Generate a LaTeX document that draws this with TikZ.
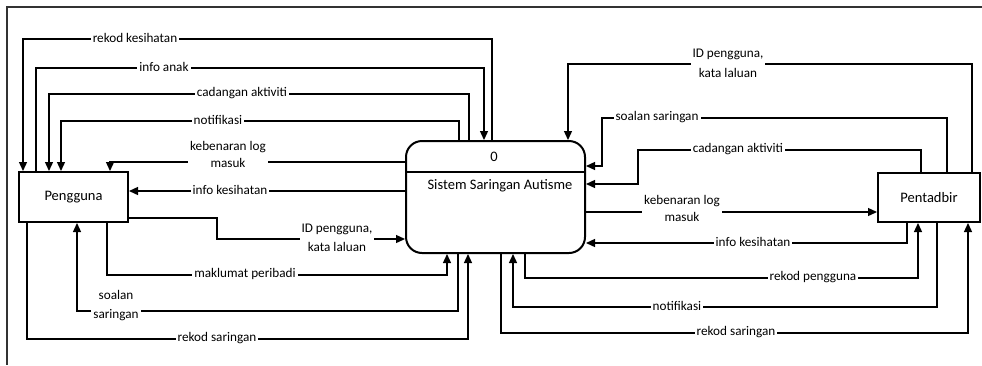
\documentclass[tikz,border=0pt]{standalone}
\usepackage{fontspec}
\setmainfont{Carlito}
\usetikzlibrary{arrows.meta,calc}
\begin{document}
\begin{tikzpicture}[x=1pt,y=-1pt,
  flow/.style={line width=1.3pt,-{Triangle[length=9pt,width=8pt]}},
  lbl/.style={fill=white,inner sep=2pt,font=\fontsize{13.2}{19}\selectfont,align=center},
  ent/.style={draw,line width=2pt,inner sep=0pt,font=\fontsize{14.5}{17}\selectfont},
  proc/.style={draw,line width=2pt,rounded corners=16pt,inner sep=0pt,minimum width=179pt,minimum height=112pt}]
\useasboundingbox (0,0) rectangle (982,365);
% frame
\draw[line width=1.6pt,black!80] (982,7) -- (7,7) -- (7,365);
% entities
\node[ent,minimum width=109pt,minimum height=50pt] (P) at (73.5,197) {Pengguna};
\node[ent,minimum width=102pt,minimum height=49pt] (A) at (929,197.5) {Pentadbir};
\node[proc] (S) at (495.5,197) {};
\draw[line width=2pt] (S.west |- 0,172) -- (S.east |- 0,172);
\node[font=\fontsize{14.5}{17}\selectfont] (Snum) at (494,157) {0};
\node[font=\fontsize{14.5}{17}\selectfont] (Stitle) at (500,186) {Sistem Saringan Autisme};
% left flows
\draw[flow] (S.north -| 492,0) |- (23,39) -- (P.north -| 23,0);
\draw[flow] (P.north -| 36,0) |- (484,68) -- (S.north -| 484,0);
\draw[flow] (S.north -| 469,0) |- (49,94) -- (P.north -| 49,0);
\draw[flow] (S.north -| 459,0) |- (61,121) -- (P.north -| 61,0);
\draw[flow] (S.west |- 0,162) -| (P.north -| 110,0);
\draw[flow] (S.west |- 0,191) -- (P.east |- 0,191);
\draw[flow] (P.east |- 0,218) -| (217,239) -- (S.west |- 0,239);
\draw[flow] (P.south -| 107,0) |- (447,275) -- (S.south -| 447,0);
\draw[flow] (S.south -| 458,0) |- (77,311) -- (P.south -| 77,0);
\draw[flow] (P.south -| 27,0) |- (468,339) -- (S.south -| 468,0);
% right flows
\draw[flow] (A.north -| 972,0) |- (568,64) -- (S.north -| 568,0);
\draw[flow] (A.north -| 947,0) |- (602,118) |- (S.east |- 0,166);
\draw[flow] (A.north -| 921,0) |- (638,150) |- (S.east |- 0,184);
\draw[flow] (S.east |- 0,212) -- (A.west |- 0,212);
\draw[flow] (A.south -| 907,0) |- (S.east |- 0,243);
\draw[flow] (S.south -| 525,0) |- (918,278) -- (A.south -| 918,0);
\draw[flow] (A.south -| 937,0) |- (513,307) -- (S.south -| 513,0);
\draw[flow] (S.south -| 501,0) |- (968,333) -- (A.south -| 968,0);
% labels left
\node[lbl] (l1) at (135,38) {rekod kesihatan};
\node[lbl] (l2) at (164,67) {info anak};
\node[lbl] (l3) at (242,93) {cadangan aktiviti};
\node[lbl] (l4) at (218,120) {notifikasi};
\node[lbl] (l5) at (228,154) {kebenaran log\\[-2pt]masuk};
\node[lbl] (l6) at (230,190) {info kesihatan};
\node[lbl] (l7) at (337,238) {ID pengguna,\\kata laluan};
\node[lbl] (l8) at (245,274) {maklumat peribadi};
\node[lbl] (l9) at (116,306) {soalan\\saringan};
\node[lbl] (l10) at (217,338) {rekod saringan};
% labels right
\node[lbl] (r1) at (728,63) {ID pengguna,\\[1pt]kata laluan};
\node[lbl] (r2) at (657,117) {soalan saringan};
\node[lbl] (r3) at (738,149) {cadangan aktiviti};
\node[lbl] (r4) at (682,208) {kebenaran log\\[-2pt]masuk};
\node[lbl] (r5) at (753,242) {info kesihatan};
\node[lbl] (r6) at (813,277) {rekod pengguna};
\node[lbl] (r7) at (677,306) {notifikasi};
\node[lbl] (r8) at (736,332) {rekod saringan};
\end{tikzpicture}
\end{document}
